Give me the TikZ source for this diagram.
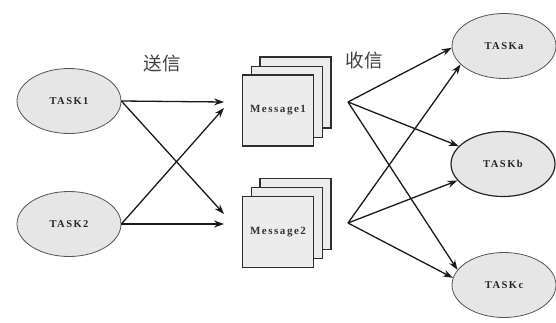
\documentclass[tikz,border=0pt]{standalone}
\usepackage{fontspec}
\setmainfont{Liberation Serif}
\newfontfamily\cjk{Noto Sans CJK SC}
\usetikzlibrary{shapes.geometric,arrows.meta}
\definecolor{ellfill}{HTML}{E6E6E6}
\definecolor{ellline}{HTML}{555555}
\definecolor{sqfill}{HTML}{ECECEC}
\definecolor{sqline}{HTML}{2E2E2E}
\definecolor{arr}{HTML}{1A1A1A}
\tikzset{
  task/.style={ellipse, draw=ellline, fill=ellfill, line width=0.8pt,
    minimum width=104pt, minimum height=65pt, inner sep=0pt,
    font=\fontsize{10.5}{11}\selectfont\bfseries\addfontfeature{LetterSpace=14}, text=black!85},
  page/.style={rectangle, draw=sqline, fill=sqfill, line width=1.3pt,
    minimum width=71pt, minimum height=71pt, inner sep=0pt,
    font=\fontsize{11}{12}\selectfont\bfseries\addfontfeature{LetterSpace=14}, text=black!80},
  conn/.style={draw=arr, line width=1.3pt, -{Stealth[length=10pt,width=7pt]}},
  lbl/.style={font=\cjk\fontsize{18.5}{20}\selectfont, text=black!75, inner sep=0pt}
}
\begin{document}
\begin{tikzpicture}[x=1pt,y=-1pt]
\fill[white] (0,0) rectangle (556,322);
\useasboundingbox (0,0) rectangle (556,322);

% left tasks
\node[task] (t1) at (69,101) {TASK1};
\node[task] (t2) at (69,224) {TASK2};

% message stacks
\node[page] (m1c) at (295.5,92.5) {};
\node[page] (m1b) at (287,102) {};
\node[page] (m1) at (278,110.5) {Message1};
\node[page] (m2c) at (295.5,214) {};
\node[page] (m2b) at (287,223) {};
\node[page] (m2) at (278,232) {Message2};

% right tasks
\node[task] (ta) at (504,46) {TASKa};
\node[task, draw=black!85, line width=1.2pt] (tb) at (503,164) {TASKb};
\node[task] (tc) at (504,285) {TASKc};

% labels
\node[lbl] (send) at (162,63) {送信};
\node[lbl] (recv) at (364,60) {收信};

% arrow free ends and sources
\coordinate (in1a) at (224,102);
\coordinate (in1b) at (224,108);
\coordinate (in2a) at (224,214);
\coordinate (in2b) at (224,224);
\coordinate (o1) at (348,102);
\coordinate (o2) at (348,223);

\draw[conn] (t1.east) -- (in1a);
\draw[conn] (t1.east) -- (in2a);
\draw[conn] (t2.east) -- (in1b);
\draw[conn] (t2.east) -- (in2b);

\draw[conn] (o1) -- (ta.182);
\draw[conn] (o1) -- (tb.158);
\draw[conn] (o1) -- (tc.162);
\draw[conn] (o2) -- (ta.203);
\draw[conn] (o2) -- (tb.200);
\draw[conn] (o2) -- (tc.172);
\end{tikzpicture}
\end{document}
